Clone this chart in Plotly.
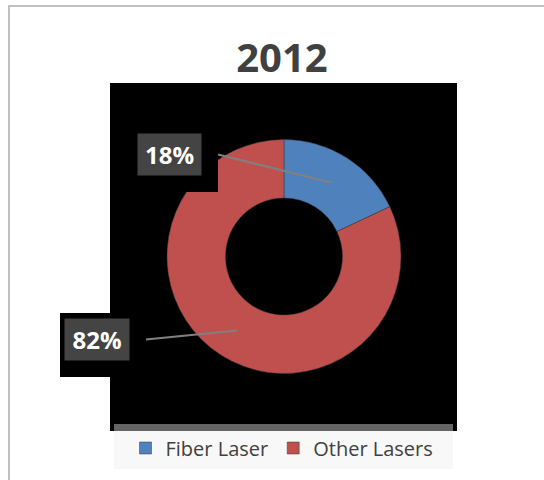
import math
import plotly.graph_objects as go

# ---- data ----
title_text = "2012"
categories = ["Fiber Laser", "Other Lasers"]
values = [18, 82]
colors = ["#4F81BD", "#C0504D"]

W, H = 544, 480


def px(x):
    return x / W


def py(y):
    return 1 - y / H


# pie geometry (pixels)
cx, cy, R = 284, 256.5, 117
hole = 0.5

fig = go.Figure()
fig.add_trace(go.Pie(
    labels=categories,
    values=values,
    hole=hole,
    sort=False,
    direction="clockwise",
    rotation=0,
    textinfo="none",
    hoverinfo="label+percent",
    marker=dict(colors=colors, line=dict(color="#3a3a3a", width=0.5)),
    domain=dict(x=[px(cx - R), px(cx + R)], y=[py(cy + R), py(cy - R)]),
))

shapes = []
# outer frame (container border)
shapes.append(dict(type="line", xref="paper", yref="paper", x0=px(9), x1=px(9), y0=py(5), y1=py(490),
                   line=dict(color="#c0c0c0", width=2), layer="below"))
shapes.append(dict(type="line", xref="paper", yref="paper", x0=px(8), x1=px(560), y0=py(6), y1=py(6),
                   line=dict(color="#c0c0c0", width=2), layer="below"))
# black chart area
shapes.append(dict(type="rect", xref="paper", yref="paper", x0=px(110), x1=px(457), y0=py(431), y1=py(83),
                   fillcolor="black", line=dict(width=0), layer="below"))
# legend background + gray bar
shapes.append(dict(type="rect", xref="paper", yref="paper", x0=px(114), x1=px(453), y0=py(424), y1=py(431),
                   fillcolor="#656565", line=dict(width=0), layer="below"))
shapes.append(dict(type="rect", xref="paper", yref="paper", x0=px(114), x1=px(453), y0=py(469), y1=py(431),
                   fillcolor="#f8f8f8", line=dict(width=0), layer="below"))

# data labels: box positions (pixel) for each slice label
label_boxes = [
    dict(x0=138, x1=201, y0=134, y1=175),  # Fiber Laser
    dict(x0=65, x1=129, y0=319, y1=360),   # Other Lasers
]

total = sum(values)
cum = 0
annotations = []
for v, box in zip(values, label_boxes):
    mid = (cum + v / 2) / total * 2 * math.pi  # clockwise from top
    cum += v
    rmid = R * (1 + hole) / 2
    tx = cx + rmid * math.sin(mid)
    ty = cy - rmid * math.cos(mid)
    # black surround behind label
    ox0, oy0, ox1, oy1 = box["x0"] - 5, box["y0"] - 6, box["x1"] + 17, box["y1"] + 17
    shapes.append(dict(type="rect", xref="paper", yref="paper", x0=px(ox0), x1=px(ox1), y0=py(oy1), y1=py(oy0),
                       fillcolor="black", line=dict(width=0), layer="above"))
    # leader line
    lx = ox1
    ly = (box["y0"] + box["y1"]) / 2
    shapes.append(dict(type="line", xref="paper", yref="paper", x0=px(lx), y0=py(ly), x1=px(tx), y1=py(ty),
                       line=dict(color="#808080", width=2), layer="above"))
    pct = round(v / total * 100)
    annotations.append(dict(
        x=px((box["x0"] + box["x1"]) / 2), y=py((box["y0"] + box["y1"]) / 2),
        xref="paper", yref="paper", xanchor="center", yanchor="middle",
        text=f"<b>{pct}%</b>", showarrow=False,
        font=dict(family="Open Sans", size=24, color="white"),
        bgcolor="#444444", borderpad=0,
        width=box["x1"] - box["x0"], height=box["y1"] - box["y0"],
    ))

fig.update_layout(
    width=W, height=H,
    margin=dict(l=0, r=0, t=0, b=0),
    paper_bgcolor="white",
    plot_bgcolor="white",
    title=dict(text=f"<b>{title_text}</b>", x=px(282), xanchor="center", y=py(58), yanchor="middle",
               font=dict(family="Open Sans", size=40, color="#404040")),
    showlegend=True,
    legend=dict(orientation="h", x=px(282), xanchor="center", y=py(448), yanchor="middle",
                bgcolor="rgba(0,0,0,0)", font=dict(family="Open Sans", size=20, color="#404040"),
                itemclick=False),
    shapes=shapes,
    annotations=annotations,
)

fig.write_html("out.html")
